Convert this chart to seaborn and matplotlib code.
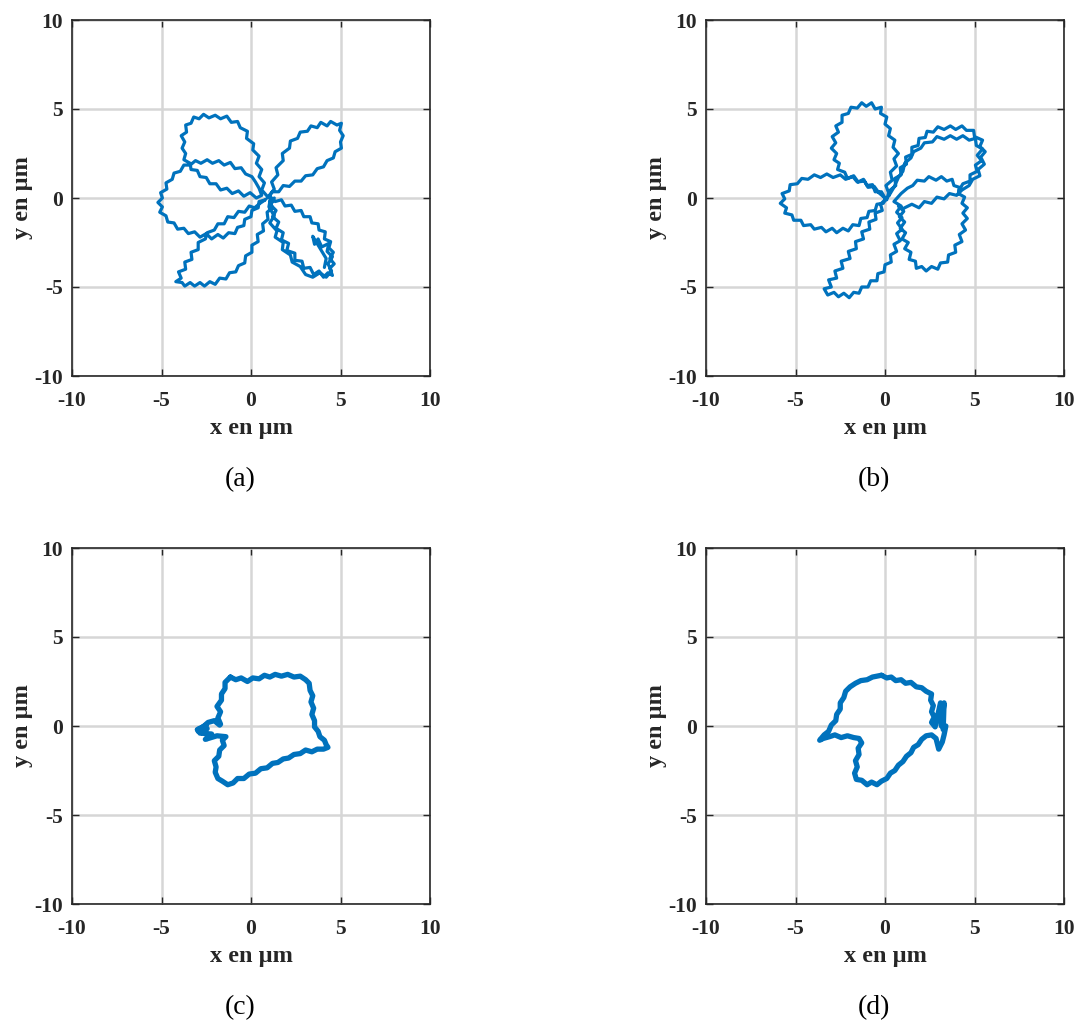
import numpy as np
import pandas as pd
import matplotlib
matplotlib.use('Agg')
import matplotlib.pyplot as plt
import seaborn as sns

sns.set_theme(style='white')
plt.rcParams['font.family'] = ['Liberation Serif', 'DejaVu Serif']
plt.rcParams['axes.unicode_minus'] = False

# ---------------- data ----------------
# panel (a)
xa = [0.9, 1.0, 1.3, 1.15, 1.5, 1.4, 1.8, 1.75, 2.15, 2.2, 2.6, 2.75, 3.15, 3.35, 3.7, 3.9, 4.25, 4.45, 4.8, 5.05,
      4.95, 5.15, 5.0, 5.05, 4.7, 4.6, 4.25, 4.05, 3.7, 3.45, 3.05, 2.8, 2.45, 2.15, 1.8, 1.55, 1.2, 0.95,
      0.6, 0.75, 0.45, 0.6, 0.3, 0.45, 0.1, 0.15, -0.25, -0.2, -0.6, -0.75, -1.1, -1.35, -1.7, -2.0, -2.35, -2.65,
      -2.9, -3.2, -3.35, -3.65, -3.6, -3.9, -3.7, -3.85, -3.65, -3.75, -3.4, -3.35, -3.0, -2.85, -2.5, -2.3, -1.95,
      -1.7, -1.35, -1.05, -0.7, -0.4, -0.05, 0.3, 0.6,
      0.45, 0.25, 0.05, -0.3, -0.55, -0.9, -1.15, -1.5, -1.8, -2.15, -2.45, -2.8, -3.1, -3.4, -3.75, -3.95, -4.3,
      -4.4, -4.75, -4.7, -5.05, -4.95, -5.2, -4.95, -5.1, -4.75, -4.65, -4.3, -4.1, -3.75, -3.5, -3.15, -2.85, -2.5,
      -2.2, -1.85, -1.55, -1.25, -0.9, -0.75, -0.4, -0.35, 0.0, 0.05, 0.4, 0.45, 0.8,
      0.5, 0.2, -0.1, -0.35, -0.7, -0.95, -1.3, -1.5, -1.85, -2.05, -2.45, -2.55, -2.95, -2.95, -3.35, -3.3, -3.7,
      -3.65, -4.05, -3.9, -4.2, -3.85, -3.7, -3.4, -3.15, -2.85, -2.6, -2.3, -2.0, -1.75, -1.4, -1.2, -0.85, -0.7,
      -0.35, -0.3, 0.05, 0.05, 0.4, 0.35, 0.7, 0.65, 0.95, 0.9, 1.2, 1.05, 1.3,
      1.1, 1.4, 1.2, 1.55, 1.4, 1.8, 1.7, 2.1, 2.0, 2.45, 2.45, 2.85, 2.95, 3.3, 3.5, 3.8, 4.05, 4.3, 4.55, 4.4,
      4.65, 4.4, 4.6, 4.35, 4.45, 4.1, 4.15, 3.8, 3.75, 3.4, 3.3, 2.95, 2.8, 2.45, 2.25, 1.9, 1.7, 1.35, 1.1,
      1.0, 1.3, 1.05, 1.45, 1.35, 1.8, 1.75, 2.2, 2.3, 2.75, 3.05, 3.45, 3.85, 4.2, 4.5, 4.3, 4.55, 4.25, 4.35,
      3.95, 3.75, 3.55, 3.45, 3.9, 4.2, 4.1]
ya = [0.0, 0.1, 0.5, 0.9, 1.3, 1.7, 2.1, 2.5, 2.8, 3.2, 3.35, 3.7, 3.75, 4.05, 3.95, 4.25, 4.05, 4.3, 4.1, 4.2,
      3.8, 3.5, 3.15, 2.8, 2.6, 2.25, 2.1, 1.75, 1.65, 1.3, 1.25, 0.95, 0.95, 0.65, 0.7, 0.35, 0.35, 0.05,
      0.45, 0.85, 1.2, 1.6, 1.95, 2.35, 2.7, 3.05, 3.35, 3.75, 3.95, 4.3, 4.25, 4.6, 4.45, 4.65, 4.5, 4.7,
      4.45, 4.55, 4.2, 4.1, 3.7, 3.5, 3.15, 2.8, 2.5, 2.15, 1.95, 1.6, 1.55, 1.2, 1.15, 0.8, 0.8,
      0.45, 0.55, 0.25, 0.4, 0.1, 0.3, 0.0, 0.15,
      0.55, 0.9, 1.2, 1.35, 1.7, 1.65, 2.0, 1.85, 2.1, 1.95, 2.15, 1.95, 2.1, 1.85, 1.85, 1.5, 1.4,
      1.05, 0.85, 0.5, 0.3, 0.0, -0.25, -0.5, -0.8, -1.0, -1.35, -1.4, -1.75, -1.7, -2.0, -1.9, -2.2, -2.0,
      -2.3, -2.05, -2.25, -1.95, -2.0, -1.65, -1.55, -1.2, -1.05, -0.7, -0.55, -0.2, -0.1,
      -0.3, -0.55, -0.45, -0.8, -0.75, -1.1, -1.05, -1.45, -1.45, -1.8, -1.95, -2.3, -2.5, -2.9, -3.05, -3.45, -3.6,
      -4.0, -4.15, -4.5, -4.7, -4.75, -4.95, -4.75, -4.95, -4.75, -4.95, -4.7, -4.85, -4.5, -4.55, -4.2, -4.15, -3.8,
      -3.65, -3.25, -3.05, -2.65, -2.45, -2.05, -1.85, -1.45, -1.2, -0.8, -0.55, -0.2, 0.0,
      -0.4, -0.7, -1.05, -1.35, -1.7, -1.95, -2.35, -2.55, -2.95, -3.1, -3.5, -3.55, -3.95, -3.9, -4.3, -4.1, -4.45, -4.2, -4.35, -3.95,
      -3.7, -3.4, -3.05, -2.8, -2.45, -2.3, -1.9, -1.8, -1.45, -1.4, -1.05, -1.05, -0.7, -0.75, -0.4, -0.45, -0.1, -0.2, 0.05,
      -0.5, -1.0, -1.4, -1.85, -2.2, -2.5, -2.9, -3.2, -3.6, -3.85, -4.3, -4.45, -4.2, -4.45, -4.1, -3.7, -3.3, -3.0, -2.55,
      -2.75, -2.3, -2.6, -2.15, -2.9, -3.4, -3.9]

# panel (b)
xb = [0.1, 0.2, 0.05, 0.4, 0.3, 0.65, 0.5, 0.75, 0.45, 0.55, 0.2, 0.3, 0.0, 0.1, -0.25, -0.2, -0.55, -0.75, -1.05,
      -1.3, -1.55, -1.9, -2.05, -2.4, -2.4, -2.75, -2.6, -2.95, -2.75, -3.0, -2.7, -2.85, -2.55, -2.65, -2.25, -2.1,
      -1.75, -1.5, -1.2, -1.0, -0.7, -0.55, -0.2, 0.0,
      -0.35, -0.6, -0.95, -1.15, -1.55, -1.8, -2.2, -2.5, -2.9, -3.25, -3.6, -3.95, -4.3, -4.65, -4.9, -5.3, -5.35,
      -5.75, -5.6, -5.85, -5.5, -5.6, -5.2, -5.1, -4.7, -4.55, -4.15, -3.95, -3.55, -3.3, -2.95, -2.7, -2.35, -2.05,
      -1.8, -1.45, -1.35, -1.0, -0.9, -0.55, -0.45, -0.1, 0.1,
      -0.25, -0.15, -0.55, -0.5, -0.9, -0.85, -1.3, -1.2, -1.65, -1.6, -2.05, -1.95, -2.45, -2.35, -2.8, -2.7, -3.15,
      -3.0, -3.4, -3.2, -2.85, -2.6, -2.3, -2.0, -1.75, -1.45, -1.3, -0.95, -0.8, -0.45, -0.4, -0.05, 0.0, 0.35, 0.3,
      0.65, 0.5, 0.85, 0.65, 0.95, 0.7, 0.95, 0.65, 0.9, 0.5,
      0.9, 1.25, 1.55, 1.8, 2.2, 2.45, 2.85, 3.15, 3.45, 3.75, 3.85, 4.15, 4.1, 4.45, 4.3, 4.6, 4.35, 4.6, 4.3, 4.5,
      4.15, 4.3, 3.9, 3.95, 3.55, 3.5, 3.1, 2.95, 2.6, 2.3, 2.05, 1.75, 1.7, 1.35, 1.45, 1.1, 1.3, 0.95, 1.15, 0.85,
      1.1, 0.8, 1.05, 0.75, 1.0,
      1.5, 1.9, 2.2, 2.6, 2.9, 3.3, 3.6, 4.0, 4.3,
      4.7, 4.9, 5.3, 5.2, 5.55, 5.35, 5.6, 5.3, 5.45, 5.0, 4.95, 4.55, 4.3, 3.95, 3.65, 3.3, 2.95, 2.7, 2.35, 2.25,
      1.9, 1.85, 1.5, 1.5, 1.15, 1.2, 0.85, 0.9, 0.55, 0.6, 0.3, 0.2,
      0.5, 0.75, 1.0, 1.1, 1.45, 1.6, 2.0, 2.2, 2.65, 2.9, 3.3, 3.65, 4.0, 4.35, 4.7, 5.05, 5.1, 5.45, 5.15, 5.4,
      5.05, 5.15, 4.75, 4.75, 4.35, 4.15]
yb = [-0.1, 0.3, 0.7, 1.0, 1.45, 1.8, 2.2, 2.5, 2.85, 3.25, 3.5, 3.9, 4.15, 4.55, 4.75, 5.1, 5.0, 5.35, 5.15,
      5.35, 5.05, 5.1, 4.75, 4.65, 4.25, 4.05, 3.7, 3.45, 3.1, 2.8, 2.5, 2.15, 1.95, 1.6, 1.45, 1.1,
      1.25, 0.9, 1.05, 0.7, 0.75, 0.35, 0.35, 0.0,
      0.3, 0.65, 0.6, 0.95, 0.9, 1.2, 1.05, 1.3, 1.15, 1.35, 1.15, 1.3, 1.05, 1.1, 0.8, 0.75, 0.4,
      0.25, -0.05, -0.3, -0.55, -0.85, -0.95, -1.25, -1.25, -1.55, -1.5, -1.75, -1.65, -1.9, -1.7, -1.95, -1.7, -1.85,
      -1.5, -1.55, -1.15, -1.1, -0.75, -0.7, -0.35, -0.3, 0.0,
      -0.35, -0.7, -0.85, -1.2, -1.35, -1.75, -1.9, -2.3, -2.45, -2.85, -3.0, -3.4, -3.55, -3.95, -4.1, -4.5, -4.6,
      -5.0, -5.1, -5.45, -5.3, -5.55, -5.35, -5.6, -5.3, -5.35, -5.0, -5.0, -4.65, -4.65, -4.25, -4.15, -3.75, -3.6, -3.2,
      -3.0, -2.6, -2.4, -2.0, -1.75, -1.4, -1.1, -0.8, -0.45, -0.2,
      0.25, 0.55, 0.7, 1.0, 0.95, 1.2, 1.0, 1.2, 0.95, 1.05, 0.7, 0.6, 0.25, 0.05, -0.3, -0.55, -0.85, -1.15, -1.45, -1.8,
      -2.05, -2.45, -2.65, -3.05, -3.2, -3.6, -3.65, -4.0, -3.85, -4.1, -3.85, -3.95, -3.55, -3.45, -3.05, -2.85, -2.5, -2.3, -1.95, -1.7,
      -1.35, -1.05, -0.75, -0.45, -0.6,
      -0.35, -0.55, -0.2, -0.3, 0.05, -0.05, 0.25, 0.15, 0.45,
      0.7, 1.05, 1.25, 1.6, 1.9, 2.3, 2.6, 2.9, 3.25, 3.45, 3.8, 3.8, 4.05, 3.85, 4.05, 3.85, 4.0, 3.7, 3.75, 3.4,
      3.35, 2.95, 2.85, 2.45, 2.3, 1.9, 1.7, 1.3, 1.1, 0.7, 0.45, 0.1,
      0.6, 1.15, 1.5, 1.95, 2.25, 2.6, 2.8, 3.1, 3.15, 3.45, 3.3, 3.5, 3.3, 3.5, 3.25, 3.35, 2.95, 2.75, 2.4, 2.1,
      1.85, 1.5, 1.3, 0.95, 0.8, 0.45]

# panel (c)
xc = [-1.15, -0.85, -0.55, -0.2, 0.1, 0.45, 0.75, 1.05, 1.35, 1.7, 2.05, 2.4, 2.75, 3.05, 3.25, 3.3, 3.45, 3.35,
      3.5, 3.4, 3.55, 3.55, 3.75, 3.85, 4.1, 4.2, 4.3, 4.05, 3.7, 3.4, 3.05, 2.75, 2.4, 2.1, 1.8, 1.5, 1.2, 0.9,
      0.55, 0.25, -0.1, -0.4, -0.75, -1.0, -1.3, -1.6, -1.85, -2.0, -1.95, -2.05, -1.8, -1.75, -1.5, -1.6, -1.4,
      -1.9, -2.55, -2.2, -2.85, -2.45, -3.0, -2.5, -2.95, -2.4, -2.05, -1.75,
      -1.7, -1.85, -1.7, -1.9, -1.65, -1.65, -1.45, -1.45, -1.2, -1.15]
yc = [2.75, 2.6, 2.7, 2.5, 2.7, 2.65, 2.85, 2.75, 2.9, 2.8, 2.9, 2.75, 2.8, 2.6, 2.4, 2.0, 1.7, 1.35,
      1.0, 0.65, 0.3, -0.05, -0.3, -0.6, -0.8, -1.05, -1.2, -1.3, -1.3, -1.45, -1.35, -1.55, -1.6, -1.8, -1.85, -2.05, -2.1, -2.35,
      -2.4, -2.65, -2.7, -2.95, -2.95, -3.2, -3.3, -3.1, -2.95, -2.6, -2.3, -1.95, -1.7, -1.35, -1.1, -0.8, -0.6,
      -0.55, -0.75, -0.45, -0.4, -0.15, -0.2, 0.05, -0.3, 0.2, 0.3, 0.05,
      0.1, 0.45, 0.8, 1.1, 1.45, 1.8, 2.1, 2.45, 2.7, 2.75]

# panel (d)
xd = [-0.2, 0.1, 0.35, 0.6, 0.9, 1.15, 1.45, 1.75, 2.05, 2.3, 2.6, 2.55, 2.7, 2.6, 2.75, 2.6, 2.8,
      3.1, 3.15, 3.3, 3.25, 3.4, 3.3, 3.2, 3.0, 2.85, 2.6, 2.3, 2.05, 1.85, 1.6, 1.45, 1.2, 1.0, 0.75, 0.55, 0.3,
      0.1, -0.2, -0.45, -0.75, -1.0, -1.3, -1.6, -1.7, -1.55, -1.65, -1.45, -1.5, -1.3, -1.45, -1.75, -2.1, -2.45,
      -2.8, -3.1, -3.45, -3.65, -3.4, -3.15, -3.0, -2.75, -2.7, -2.5, -2.5, -2.3, -2.2, -1.95, -1.65, -1.35, -1.0,
      -0.7, -0.45, -0.2]
yd = [2.85, 2.7, 2.75, 2.55, 2.6, 2.4, 2.45, 2.2, 2.15, 1.95, 1.8, 1.45, 1.15, 0.8, 0.5, 0.2, -0.05,
      1.3, 0.0, 1.3, -0.2, 0.0, -0.5, -0.9, -1.3, -0.7, -0.5, -0.55, -0.75, -1.05, -1.2, -1.5, -1.7, -2.0, -2.2, -2.5, -2.65,
      -2.95, -3.1, -3.3, -3.15, -3.3, -3.05, -3.0, -2.65, -2.3, -1.95, -1.6, -1.25, -0.95, -0.7, -0.65, -0.55, -0.65,
      -0.5, -0.6, -0.7, -0.8, -0.5, -0.3, 0.05, 0.3, 0.65, 0.95, 1.3, 1.6, 1.95, 2.2, 2.4, 2.55, 2.6,
      2.75, 2.8, 2.85]

panel_labels = ['(a)', '(b)', '(c)', '(d)']
tick_values = [-10, -5, 0, 5, 10]
x_label = 'x en µm'
y_label = 'y en µm'

# ---------------- figure ----------------
FW, FH = 1076, 1021
fig = plt.figure(figsize=(FW / 100, FH / 100), dpi=100)
W, H = 358, 356
origins = [(72, 20), (706, 20), (72, 548), (706, 548)]
data = [(xa, ya), (xb, yb), (xc, yc), (xd, yd)]
lws = [2.3, 2.3, 3.8, 3.8]

for (l, t), (xs, ys), lab, lw in zip(origins, data, panel_labels, lws):
    ax = fig.add_axes([l / FW, 1 - (t + H) / FH, W / FW, H / FH])
    df = pd.DataFrame({'x': xs, 'y': ys})
    sns.lineplot(data=df, x='x', y='y', sort=False, estimator=None, ax=ax,
                 color='#0072BD', linewidth=lw)
    ax.set_xlim(-10, 10)
    ax.set_ylim(-10, 10)
    ax.set_xticks(tick_values)
    ax.set_yticks(tick_values)
    ax.set_axisbelow(True)
    ax.grid(True, color='#d6d6d6', linewidth=1.8)
    for s in ax.spines.values():
        s.set_color('#262626')
        s.set_linewidth(1.2)
    ax.tick_params(direction='in', bottom=True, left=True, top=True, right=True,
                   length=5, width=1.0, labelsize=15.5, colors='#262626')
    ax.tick_params(axis='x', pad=11)
    ax.tick_params(axis='y', pad=6.5)
    for tl in ax.get_xticklabels() + ax.get_yticklabels():
        tl.set_fontweight('bold')
    ax.set_xlabel(x_label, fontsize=17.5, fontweight='bold', labelpad=5, color='#262626')
    ax.set_ylabel(y_label, fontsize=17.5, fontweight='bold', labelpad=1, color='#262626')
    cx = l + W / 2 - 11
    cy = t + H + 104
    fig.text(cx / FW, 1 - cy / FH, lab, ha='center', va='center', fontsize=20, color='black')

fig.savefig('out.png', dpi=100)
